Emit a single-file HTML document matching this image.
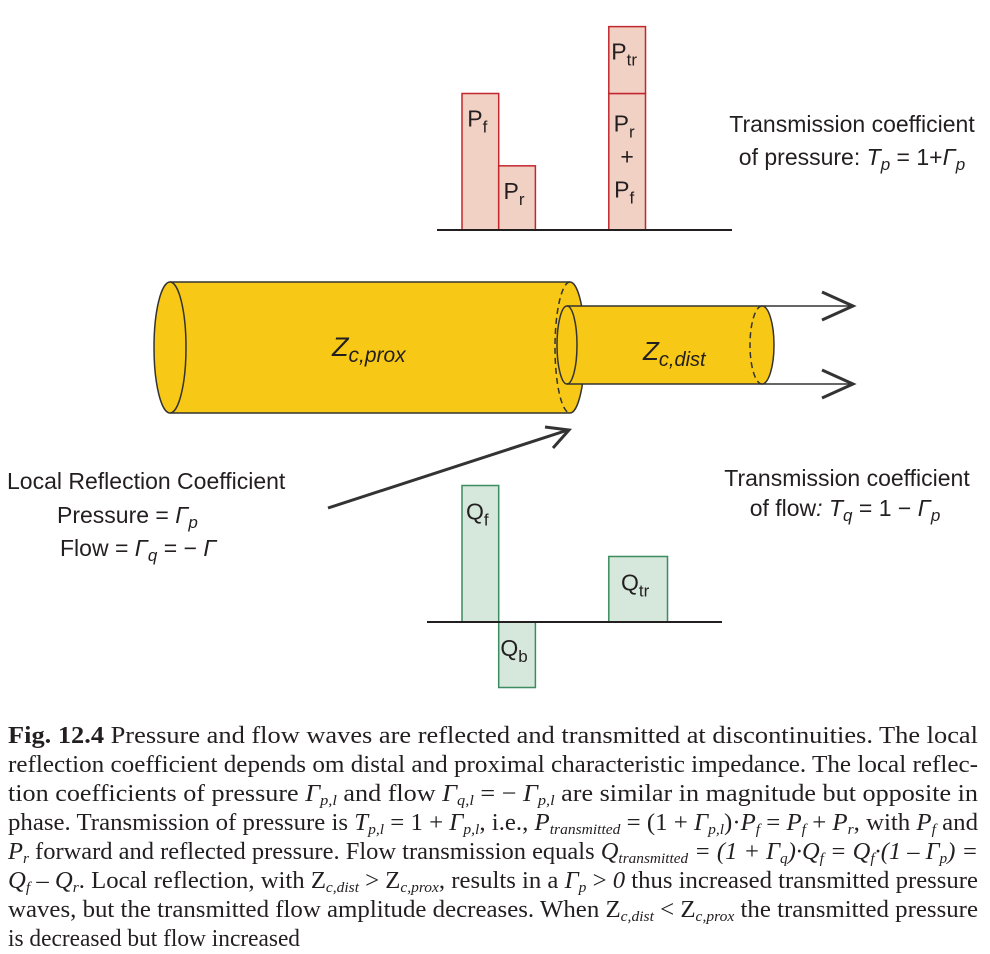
<!DOCTYPE html>
<html><head><meta charset="utf-8"><style>
html,body{margin:0;padding:0;background:#fff;}
svg{display:block;}
.s{font-family:"Liberation Sans",sans-serif;fill:#231f20;}
.c{font-family:"Liberation Serif",serif;fill:#231f20;font-size:24px;}
</style></head><body>
<svg id="fig" width="990" height="954" viewBox="0 0 990 954" xmlns="http://www.w3.org/2000/svg">
<g>
  <rect x="170" y="282" width="400" height="131" fill="#f7c815"/>
  <line x1="170" y1="282" x2="570" y2="282" stroke="#333" stroke-width="1.5"/>
  <line x1="170" y1="413" x2="570" y2="413" stroke="#333" stroke-width="1.5"/>
  <ellipse cx="170" cy="347.5" rx="16" ry="65.5" fill="#f7c815" stroke="#333" stroke-width="1.5"/>
  <path d="M570,282 A15,65.5 0 0 1 570,413" fill="#f7c815" stroke="#333" stroke-width="1.5"/>
  <path d="M570,282 A15,65.5 0 0 0 570,413" fill="none" stroke="#333" stroke-width="1.5" stroke-dasharray="6,4"/>
  <rect x="567" y="306" width="195" height="78" fill="#f7c815"/>
  <ellipse cx="567" cy="345" rx="10" ry="39" fill="#f7c815" stroke="#333" stroke-width="1.5"/>
  <line x1="567" y1="306" x2="850" y2="306" stroke="#333" stroke-width="1.5"/>
  <line x1="567" y1="384" x2="850" y2="384" stroke="#333" stroke-width="1.5"/>
  <path d="M762,306 A12,39 0 0 1 762,384" fill="#f7c815" stroke="#333" stroke-width="1.5"/>
  <path d="M762,306 A12,39 0 0 0 762,384" fill="none" stroke="#333" stroke-width="1.5" stroke-dasharray="6,4"/>
  <path d="M822,292 L853,306 L822,320 M822,370 L853,384 L822,398" fill="none" stroke="#333" stroke-width="3"/>
  <text x="332" y="356" class="s" font-size="27" font-style="italic">Z<tspan font-size="21" dy="6">c,prox</tspan></text>
  <text x="643" y="360" class="s" font-size="26" font-style="italic">Z<tspan font-size="20" dy="6">c,dist</tspan></text>
</g>
<g>
  <line x1="328" y1="508" x2="568" y2="430" stroke="#333" stroke-width="3"/>
  <path d="M545,427 L569,430 L553,448" fill="none" stroke="#333" stroke-width="3"/>
</g>
<g id="pbars"></g>
<g id="qbars"></g>
<line x1="437" y1="230" x2="732" y2="230" stroke="#231f20" stroke-width="2"/>
<line x1="427" y1="622" x2="722" y2="622" stroke="#231f20" stroke-width="2"/>
<g class="s" font-size="23">
  <text x="852" y="132" text-anchor="middle">Transmission coefficient</text>
  <text x="852" y="165" text-anchor="middle">of pressure: <tspan font-style="italic">T<tspan font-size="17" dy="5">p</tspan></tspan><tspan dy="-5"> = 1+</tspan><tspan font-style="italic">Γ<tspan font-size="17" dy="5">p</tspan></tspan></text>
</g>
<g class="s" font-size="23">
  <text x="847" y="486" text-anchor="middle">Transmission coefficient</text>
  <text x="845" y="516" text-anchor="middle">of flow<tspan font-style="italic">: T<tspan font-size="17" dy="5">q</tspan></tspan><tspan dy="-5"> = 1 − </tspan><tspan font-style="italic">Γ<tspan font-size="17" dy="5">p</tspan></tspan></text>
</g>
<g class="s" font-size="23">
  <text x="7" y="489">Local Reflection Coefficient</text>
  <text x="57" y="523">Pressure = <tspan font-style="italic">Γ<tspan font-size="17" dy="5">p</tspan></tspan></text>
  <text x="60" y="556">Flow = <tspan font-style="italic">Γ<tspan font-size="17" dy="5">q</tspan></tspan><tspan dy="-5"> = − </tspan><tspan font-style="italic">Γ</tspan></text>
</g>
<g>
<text class="c" x="8" y="743" textLength="970" lengthAdjust="spacingAndGlyphs"><tspan font-weight="bold">Fig. 12.4</tspan>  Pressure and flow waves are reflected and transmitted at discontinuities. The local</text>
<text class="c" x="8" y="772" textLength="970" lengthAdjust="spacingAndGlyphs">reflection coefficient depends om distal and proximal characteristic impedance. The local reflec-</text>
<text class="c" x="8" y="801" textLength="970" lengthAdjust="spacingAndGlyphs">tion coefficients of pressure <tspan font-style="italic">Γ<tspan font-size="15" dy="4">p,l</tspan></tspan><tspan dy="-4"> and flow </tspan><tspan font-style="italic">Γ<tspan font-size="15" dy="4">q,l</tspan></tspan><tspan dy="-4"> = − </tspan><tspan font-style="italic">Γ<tspan font-size="15" dy="4">p,l</tspan></tspan><tspan dy="-4"> are similar in magnitude but opposite in</tspan></text>
<text class="c" x="8" y="830" textLength="970" lengthAdjust="spacingAndGlyphs">phase. Transmission of pressure is <tspan font-style="italic">T<tspan font-size="15" dy="4">p,l</tspan></tspan><tspan dy="-4"> = 1 + </tspan><tspan font-style="italic">Γ<tspan font-size="15" dy="4">p,l</tspan></tspan><tspan dy="-4">, i.e., </tspan><tspan font-style="italic">P<tspan font-size="15" dy="4">transmitted</tspan></tspan><tspan dy="-4"> = (1 + </tspan><tspan font-style="italic">Γ<tspan font-size="15" dy="4">p,l</tspan></tspan><tspan dy="-4">)·</tspan><tspan font-style="italic">P<tspan font-size="15" dy="4">f</tspan></tspan><tspan dy="-4"> = </tspan><tspan font-style="italic">P<tspan font-size="15" dy="4">f</tspan></tspan><tspan dy="-4"> + </tspan><tspan font-style="italic">P<tspan font-size="15" dy="4">r</tspan></tspan><tspan dy="-4">, with </tspan><tspan font-style="italic">P<tspan font-size="15" dy="4">f</tspan></tspan><tspan dy="-4"> and</tspan></text>
<text class="c" x="8" y="859" textLength="970" lengthAdjust="spacingAndGlyphs"><tspan font-style="italic">P<tspan font-size="15" dy="4">r</tspan></tspan><tspan dy="-4"> forward and reflected pressure. Flow transmission equals </tspan><tspan font-style="italic">Q<tspan font-size="15" dy="4">transmitted</tspan></tspan><tspan dy="-4" font-style="italic"> = (1 + Γ</tspan><tspan font-style="italic" font-size="15" dy="4">q</tspan><tspan dy="-4" font-style="italic">)·Q</tspan><tspan font-style="italic" font-size="15" dy="4">f</tspan><tspan dy="-4" font-style="italic"> = Q</tspan><tspan font-style="italic" font-size="15" dy="4">f</tspan><tspan dy="-4" font-style="italic">·(1 – Γ</tspan><tspan font-style="italic" font-size="15" dy="4">p</tspan><tspan dy="-4" font-style="italic">) =</tspan></text>
<text class="c" x="8" y="888" textLength="970" lengthAdjust="spacingAndGlyphs"><tspan font-style="italic">Q<tspan font-size="15" dy="4">f</tspan></tspan><tspan dy="-4"> – </tspan><tspan font-style="italic">Q<tspan font-size="15" dy="4">r</tspan></tspan><tspan dy="-4">. Local reflection, with Z</tspan><tspan font-style="italic" font-size="15" dy="4">c,dist</tspan><tspan dy="-4"> &gt; Z</tspan><tspan font-style="italic" font-size="15" dy="4">c,prox</tspan><tspan dy="-4">, results in a </tspan><tspan font-style="italic">Γ<tspan font-size="15" dy="4">p</tspan></tspan><tspan dy="-4"> &gt; </tspan><tspan font-style="italic">0</tspan><tspan> thus increased transmitted pressure</tspan></text>
<text class="c" x="8" y="917" textLength="970" lengthAdjust="spacingAndGlyphs">waves, but the transmitted flow amplitude decreases. When Z<tspan font-style="italic" font-size="15" dy="4">c,dist</tspan><tspan dy="-4"> &lt; Z</tspan><tspan font-style="italic" font-size="15" dy="4">c,prox</tspan><tspan dy="-4"> the transmitted pressure</tspan></text>
<text class="c" x="8" y="946" textLength="292" lengthAdjust="spacingAndGlyphs">is decreased but flow increased</text>
</g>
</svg>
<script>
// Pressure bars (units: forward wave amplitude = 1)
const pLabels = ["Pf", "Pr", "Pr+Pf", "Ptr"];
const pBase = [0, 0, 0, 1.0];
const pValues = [1.0, 0.47, 1.0, 0.49];
const pSlots = [0, 1, 4, 4];
// Flow bars
const qLabels = ["Qf", "Qb", "Qtr"];
const qValues = [1.0, -0.48, 0.48];
const qSlots = [0, 1, 4];
const qWidths = [1, 1, 1.6];

const NS = "http://www.w3.org/2000/svg";
const unit = 136.5, slotW = 36.7;
function yP(v){ return 230 - v*unit; }
function yQ(v){ return 622 - v*unit; }
function xP(s){ return 462 + s*slotW; }
function sub(g, x, y, main, s){
  const t = document.createElementNS(NS, "text");
  t.setAttribute("x", x); t.setAttribute("y", y);
  t.setAttribute("class", "s"); t.setAttribute("font-size", "23");
  t.setAttribute("text-anchor", "middle");
  
  
  t.innerHTML = main + '<tspan font-size="17" dy="6">' + s + '</tspan>';
  g.appendChild(t);
}
const pg = document.getElementById("pbars");
pValues.forEach((v, i) => {
  const r = document.createElementNS(NS, "rect");
  const x = xP(pSlots[i]);
  const y0 = yP(pBase[i]), y1 = yP(pBase[i] + v);
  r.setAttribute("x", x); r.setAttribute("y", Math.min(y0, y1));
  r.setAttribute("width", slotW); r.setAttribute("height", Math.abs(y0 - y1));
  r.setAttribute("fill", "#f2d1c5"); r.setAttribute("stroke", "#c1272d"); r.setAttribute("stroke-width", "1.5");
  
  
  pg.appendChild(r);
  const cx = x + slotW/2, top = Math.min(y0, y1);
  if (pLabels[i] === "Pr+Pf") {
    sub(pg, cx - 3, top + 38, "P", "r");
    const p = document.createElementNS(NS, "text");
    p.setAttribute("x", cx); p.setAttribute("y", top + 71);
    p.setAttribute("class", "s"); p.setAttribute("font-size", "23"); p.setAttribute("text-anchor", "middle");
    
    
    p.textContent = "+";
    pg.appendChild(p);
    sub(pg, cx - 3, top + 104, "P", "f");
  } else if (pLabels[i] === "Pr") {
    sub(pg, cx - 3, top + 33, "P", "r");
  } else {
    sub(pg, cx - 3, top + 33, "P", pLabels[i].slice(1));
  }
});
const qg = document.getElementById("qbars");
qValues.forEach((v, i) => {
  const r = document.createElementNS(NS, "rect");
  const x = xP(qSlots[i]), w = slotW*qWidths[i];
  const y0 = yQ(0), y1 = yQ(v);
  r.setAttribute("x", x); r.setAttribute("y", Math.min(y0, y1));
  r.setAttribute("width", w); r.setAttribute("height", Math.abs(y0 - y1));
  r.setAttribute("fill", "#d6e7dc"); r.setAttribute("stroke", "#3b8c5e"); r.setAttribute("stroke-width", "1.5");
  
  
  qg.appendChild(r);
  sub(qg, x + w/2 - 3, Math.min(y0, y1) + 34, "Q", qLabels[i].slice(1));
});
</script>
</body></html>
